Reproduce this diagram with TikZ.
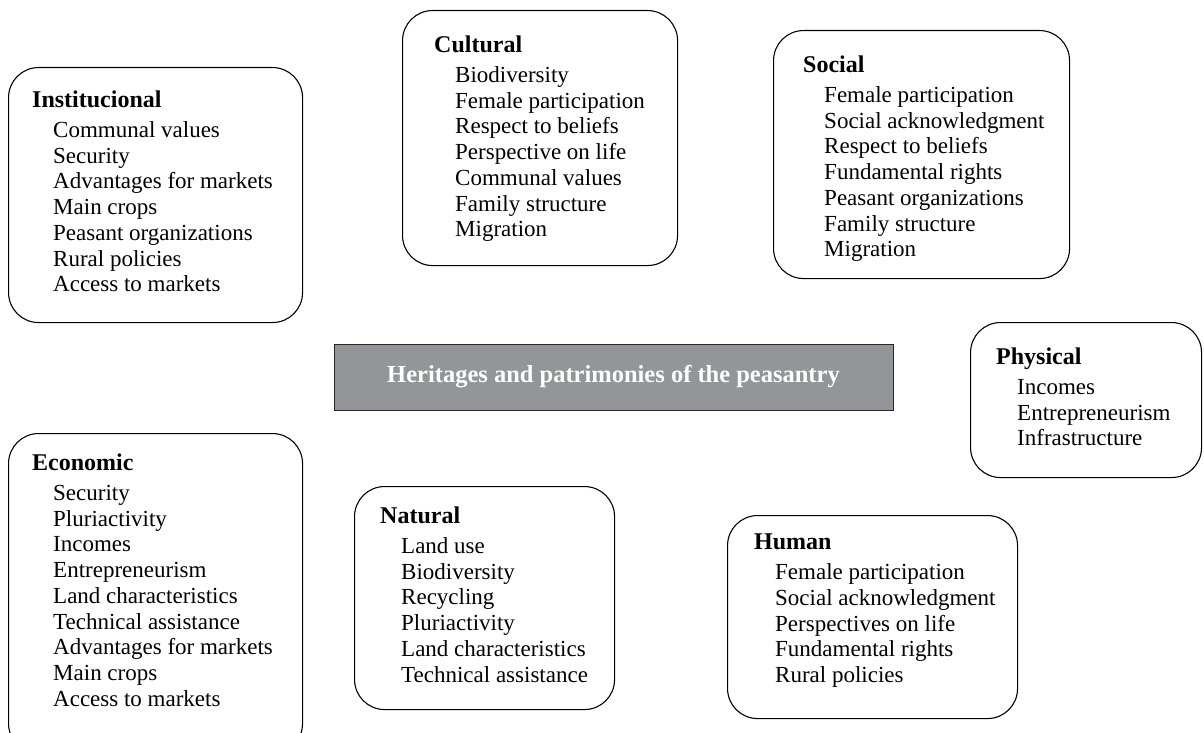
\documentclass[tikz,border=0pt]{standalone}
\usepackage{fontspec}
\setmainfont{Liberation Serif}
\usetikzlibrary{positioning}
\definecolor{boxGray}{HTML}{939598}
\newcommand{\capItem}{\hspace*{21pt}}
\newcommand{\panelTitle}[1]{{\fontsize{24}{25.7}\selectfont\bfseries #1}}

\begin{document}
\begin{tikzpicture}[
    x=1pt, y=-1pt,
    panel/.style={%
      draw,
      line width=1.1pt,
      rounded corners=30pt,
      anchor=north west,
      inner sep=0pt,
    },
    panelText/.style={%
      anchor=north west,
      align=left,
      inner sep=0pt,
      font=\fontsize{23}{25.7}\selectfont,
    },
    heading/.style={%
      draw=black!85,
      line width=1pt,
      fill=boxGray,
      text=white,
      minimum width=559pt,
      minimum height=66pt,
      font=\fontsize{24.5}{26}\selectfont\bfseries,
    },
  ]

    \useasboundingbox (0,0) rectangle (1204,733);
    \clip (0,0) rectangle (1204,733);

    % boxes
    \node [panel, minimum width=294pt, minimum height=255pt] (inst) at (8,67) {};
    \node [panel, minimum width=275pt, minimum height=255pt] (cult) at (402,10) {};
    \node [panel, minimum width=296pt, minimum height=248pt] (soc) at (773,30) {};
    \node [panel, minimum width=231pt, minimum height=155pt] (phys) at (970,322) {};
    \node [panel, minimum width=294pt, minimum height=320pt] (econ) at (8,433) {};
    \node [panel, minimum width=260pt, minimum height=223pt] (nat) at (354,486) {};
    \node [panel, minimum width=290pt, minimum height=203pt] (hum) at (727,515) {};

    \node [heading] (herit) at (613.5,377) {Heritages and patrimonies of the peasantry};

    % contents
    \node [panelText] (instT) at (32,91) {\panelTitle{Institucional}\\[4pt]
      \capItem Communal values\\ \capItem Security\\ \capItem Advantages for markets\\
      \capItem Main crops\\ \capItem Peasant organizations\\ \capItem Rural policies\\
      \capItem Access to markets};
    \node [panelText] (cultT) at (434,36) {\panelTitle{Cultural}\\[4pt]
      \capItem Biodiversity\\ \capItem Female participation\\ \capItem Respect to beliefs\\
      \capItem Perspective on life\\ \capItem Communal values\\ \capItem Family structure\\
      \capItem Migration};
    \node [panelText] (socT) at (803,56) {\panelTitle{Social}\\[4pt]
      \capItem Female participation\\ \capItem Social acknowledgment\\ \capItem Respect to beliefs\\
      \capItem Fundamental rights\\ \capItem Peasant organizations\\ \capItem Family structure\\
      \capItem Migration};
    \node [panelText] (physT) at (996,348) {\panelTitle{Physical}\\[4pt]
      \capItem Incomes\\ \capItem Entrepreneurism\\ \capItem Infrastructure};
    \node [panelText] (econT) at (32,454) {\panelTitle{Economic}\\[4pt]
      \capItem Security\\ \capItem Pluriactivity\\ \capItem Incomes\\
      \capItem Entrepreneurism\\ \capItem Land characteristics\\ \capItem Technical assistance\\
      \capItem Advantages for markets\\ \capItem Main crops\\ \capItem Access to markets};
    \node [panelText] (natT) at (380,507) {\panelTitle{Natural}\\[4pt]
      \capItem Land use\\ \capItem Biodiversity\\ \capItem Recycling\\
      \capItem Pluriactivity\\ \capItem Land characteristics\\ \capItem Technical assistance};
    \node [panelText] (humT) at (754,534) {\panelTitle{Human}\\[4pt]
      \capItem Female participation\\ \capItem Social acknowledgment\\ \capItem Perspectives on life\\
      \capItem Fundamental rights\\ \capItem Rural policies};

\end{tikzpicture}
\end{document}
